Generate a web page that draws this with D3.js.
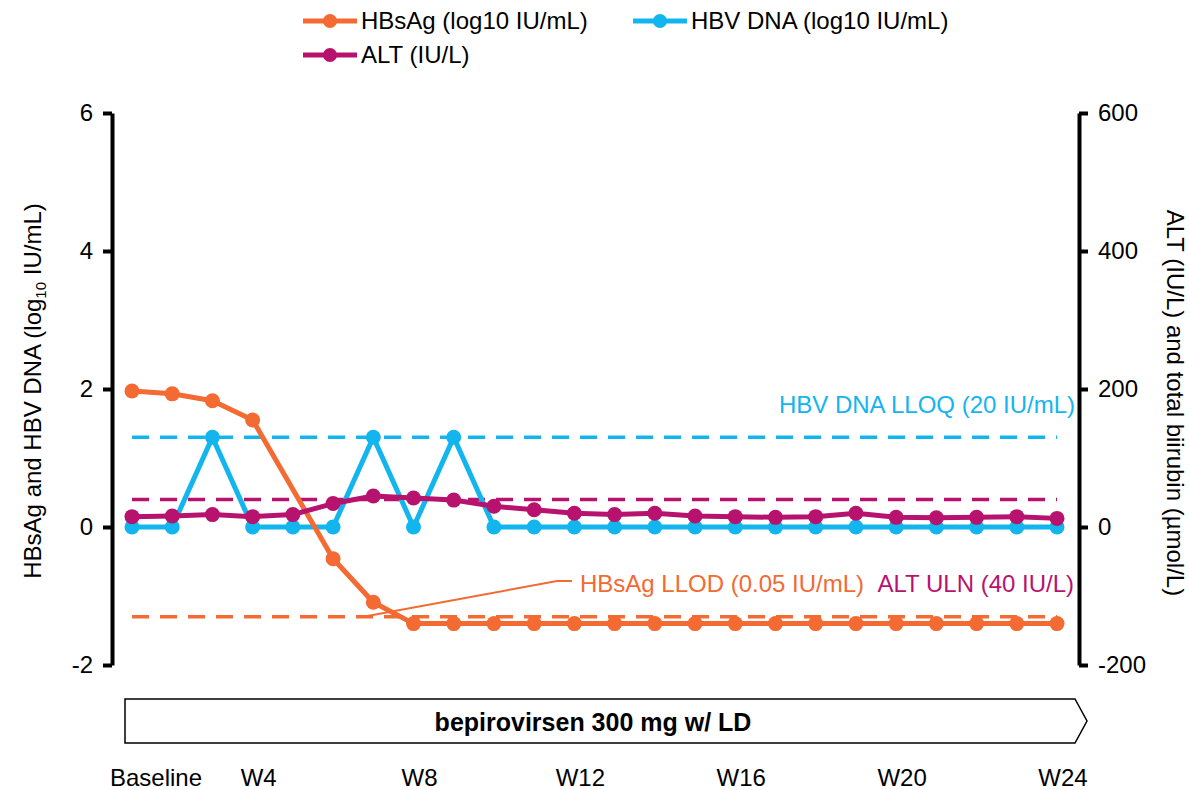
<!DOCTYPE html>
<html>
<head>
<meta charset="utf-8">
<script src="https://cdn.jsdelivr.net/npm/d3@7"></script>
<style>
  html, body { margin: 0; padding: 0; background: #fff; }
  svg { display: block; font-family: "Liberation Sans", Arial, sans-serif; }
</style>
</head>
<body>
<svg id="chart" width="1190" height="790"></svg>
<script>
// Visit schedule (baseline, then weekly from W2 to W24)
const visits = ["Baseline", "W2", "W3", "W4", "W5", "W6", "W7", "W8", "W9", "W10", "W11", "W12",
                "W13", "W14", "W15", "W16", "W17", "W18", "W19", "W20", "W21", "W22", "W23", "W24"];
const visitTicks = ["Baseline", "W4", "W8", "W12", "W16", "W20", "W24"];

// HBsAg, log10 IU/mL (no sample at W5)
const hbsag = [1.97, 1.93, 1.83, 1.55, null, -0.46, -1.09, -1.40, -1.40, -1.40, -1.40, -1.40,
               -1.40, -1.40, -1.40, -1.40, -1.40, -1.40, -1.40, -1.40, -1.40, -1.40, -1.40, -1.40];
// HBV DNA, log10 IU/mL
const hbvDna = [0, 0, 1.3, 0, 0, 0, 1.3, 0, 1.3, 0, 0, 0,
                0, 0, 0, 0, 0, 0, 0, 0, 0, 0, 0, 0];
// ALT, IU/L
const alt = [15, 16, 18, 15, 18, 34, 45, 42, 39, 30, 25, 20,
             18, 20, 16, 15, 14, 15, 20, 14, 13.5, 14, 15, 12.5];

// Reference thresholds
const hbvDnaLloq = Math.log10(20);   // 20 IU/mL
const hbsagLlod = Math.log10(0.05);  // 0.05 IU/mL
const altUln = 40;                   // IU/L

const leftTicks = [-2, 0, 2, 4, 6];
const rightTicks = [-200, 0, 200, 400, 600];

const C_HBSAG = "#F36A32";
const C_DNA = "#13B5EE";
const C_ALT = "#B8126F";
const FONT = 24;

const svg = d3.select("#chart");

const x = d3.scalePoint().domain(visits).range([132, 1057]);
const yL = d3.scaleLinear().domain([-2, 6]).range([665, 113]);
const yR = d3.scaleLinear().domain([-200, 600]).range([665, 113]);

// Reference lines
function refLine(yv, color) {
  svg.append("line")
    .attr("x1", x(visits[0])).attr("x2", x(visits[visits.length - 1]))
    .attr("y1", yv).attr("y2", yv)
    .attr("stroke", color).attr("stroke-width", 3.5)
    .attr("stroke-dasharray", "17,11");
}
refLine(yL(hbvDnaLloq), C_DNA);
refLine(yR(altUln), C_ALT);
refLine(yL(hbsagLlod), C_HBSAG);

// Series
function series(values, yScale, color) {
  const pts = values.map((v, i) => ({ k: visits[i], v })).filter(d => d.v !== null);
  const g = svg.append("g");
  g.append("path")
    .datum(pts)
    .attr("fill", "none")
    .attr("stroke", color)
    .attr("stroke-width", 5)
    .attr("stroke-linejoin", "round")
    .attr("d", d3.line().x(d => x(d.k)).y(d => yScale(d.v)));
  g.selectAll("circle").data(pts).join("circle")
    .attr("cx", d => x(d.k)).attr("cy", d => yScale(d.v))
    .attr("r", 7.5).attr("fill", color);
}
series(hbvDna, yL, C_DNA);
series(hbsag, yL, C_HBSAG);
series(alt, yR, C_ALT);

// Annotations
svg.append("text").attr("x", 1075).attr("y", 413).attr("text-anchor", "end")
  .attr("font-size", FONT).attr("fill", C_DNA).text("HBV DNA LLOQ (20 IU/mL)");
svg.append("text").attr("x", 1074).attr("y", 592).attr("text-anchor", "end")
  .attr("font-size", FONT).attr("fill", C_ALT).text("ALT ULN (40 IU/L)");
svg.append("text").attr("x", 580).attr("y", 592).attr("text-anchor", "start")
  .attr("font-size", FONT).attr("fill", C_HBSAG).text("HBsAg LLOD (0.05 IU/mL)");
svg.append("polyline")
  .attr("points", [[x("W7") - 10, yL(hbsagLlod)], [557, 581], [572, 581]].map(p => p.join(",")).join(" "))
  .attr("fill", "none").attr("stroke", C_HBSAG).attr("stroke-width", 2);

// Axes
function styleAxis(g) {
  g.select(".domain").attr("stroke", "#000").attr("stroke-width", 4);
  g.selectAll(".tick line").attr("stroke", "#000").attr("stroke-width", 4);
  g.selectAll(".tick text").attr("font-size", FONT).attr("fill", "#000")
    .attr("font-family", "Liberation Sans, Arial, sans-serif");
}
const plain = d => String(d);
svg.append("g").attr("transform", "translate(112,0)")
  .call(d3.axisLeft(yL).tickValues(leftTicks).tickFormat(plain).tickSize(9).tickSizeOuter(0).tickPadding(10))
  .call(styleAxis);
svg.append("g").attr("transform", "translate(1079,0)")
  .call(d3.axisRight(yR).tickValues(rightTicks).tickFormat(plain).tickSize(9).tickSizeOuter(0).tickPadding(10))
  .call(styleAxis);

// Axis titles
const lt = svg.append("text")
  .attr("transform", "translate(41,391) rotate(-90)")
  .attr("text-anchor", "middle").attr("font-size", FONT).attr("fill", "#000");
lt.append("tspan").text("HBsAg and HBV DNA (log");
lt.append("tspan").attr("font-size", 15).attr("dy", 5).text("10");
lt.append("tspan").attr("dy", -5).text(" IU/mL)");

svg.append("text")
  .attr("transform", "translate(1167,403) rotate(90)")
  .attr("text-anchor", "middle").attr("font-size", FONT).attr("fill", "#000")
  .text("ALT (IU/L) and total biirubin (µmol/L)");

// Treatment arrow
const bx0 = 125, bx1 = 1075, tip = 1087, by0 = 699, by1 = 743;
svg.append("polygon")
  .attr("points", [[bx0, by0], [bx1, by0], [tip, (by0 + by1) / 2], [bx1, by1], [bx0, by1]].map(p => p.join(",")).join(" "))
  .attr("fill", "#fff").attr("stroke", "#000").attr("stroke-width", 1.5);
svg.append("text").attr("x", 593).attr("y", 731).attr("text-anchor", "middle")
  .attr("font-size", 25).attr("font-weight", "bold").attr("fill", "#000")
  .text("bepirovirsen 300 mg w/ LD");

// Visit labels
svg.append("g").selectAll("text").data(visitTicks).join("text")
  .attr("x", d => x(d) + (d === "Baseline" ? 24 : 6))
  .attr("y", 786).attr("text-anchor", "middle")
  .attr("font-size", FONT).attr("fill", "#000").text(d => d);

// Legend
const legendItems = [
  { label: "HBsAg (log10 IU/mL)", color: C_HBSAG, lx: 303, ly: 21 },
  { label: "HBV DNA (log10 IU/mL)", color: C_DNA, lx: 633, ly: 21 },
  { label: "ALT (IU/L)", color: C_ALT, lx: 303, ly: 55 }
];
const lg = svg.append("g").selectAll("g").data(legendItems).join("g")
  .attr("transform", d => `translate(${d.lx},${d.ly})`);
lg.append("line").attr("x1", 0).attr("x2", 54).attr("y1", 0).attr("y2", 0)
  .attr("stroke", d => d.color).attr("stroke-width", 5);
lg.append("circle").attr("cx", 27).attr("cy", 0).attr("r", 7).attr("fill", d => d.color);
lg.append("text").attr("x", 58).attr("y", 8).attr("font-size", FONT).attr("fill", "#000")
  .text(d => d.label);
</script>
</body>
</html>
